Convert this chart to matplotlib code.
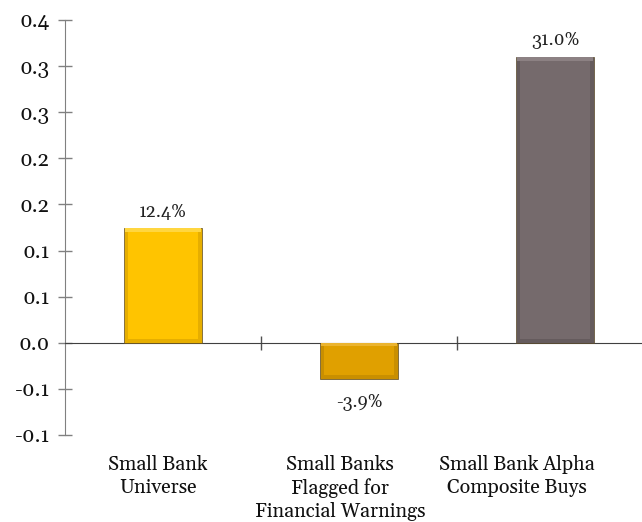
import matplotlib
matplotlib.use("Agg")
import matplotlib.pyplot as plt
import numpy as np

# ---- data ----
categories = ["Small Bank\nUniverse", "Small Banks\nFlagged for\nFinancial Warnings",
              "Small Bank Alpha\nComposite Buys"]
values = [0.124, -0.039, 0.310]
value_labels = ["12.4%", "-3.9%", "31.0%"]
ytick_values = [0.35, 0.30, 0.25, 0.20, 0.15, 0.10, 0.05, 0.00, -0.05, -0.10]
ytick_labels = ["0.4", "0.3", "0.3", "0.2", "0.2", "0.1", "0.1", "0.0", "-0.1", "-0.1"]

face_colors = ["#FFC400", "#E0A000", "#756A6C"]
side_colors = ["#E6AE00", "#C98F00", "#655B5D"]
top_colors = ["#FFD640", "#EBB430", "#8C8183"]

FONT = ["Gelasio", "Liberation Serif", "DejaVu Serif"]
plt.rcParams["font.family"] = FONT

fig = plt.figure(figsize=(6.42, 5.22), dpi=100)
ax = fig.add_axes([65 / 642, 87 / 522, 588 / 642, 415 / 522])

x = np.arange(len(values))
w = 0.395
dx = 0.018
dy = 0.004

ax.bar(x, values, width=w, color=side_colors, edgecolor="#5a4a28", linewidth=0.5, zorder=3)
for i, v in enumerate(values):
    hi = max(v, 0)
    ax.bar(x[i], -dy, bottom=hi, width=w - 0.008, color=top_colors[i], linewidth=0, zorder=4)
    lo_face = min(v, 0) + dy
    hi_face = max(v, 0) - dy
    ax.bar(x[i], hi_face - lo_face, bottom=lo_face, width=w - 2 * dx,
           color=face_colors[i], linewidth=0, zorder=5)

ax.set_xlim(-0.5, 2.5)
ax.set_ylim(-0.10, 0.35)

ax.set_yticks(ytick_values)
ax.set_yticklabels(ytick_labels, fontsize=15, color="#111111")
ax.tick_params(axis="y", direction="inout", length=10, width=1, color="#808080", pad=6)

ax.set_xticks([0.5, 1.5])
ax.set_xticklabels([])
ax.tick_params(axis="x", direction="inout", length=10, width=1, color="#505050")

for s in ["top", "right"]:
    ax.spines[s].set_visible(False)
ax.spines["left"].set_color("#808080")
ax.spines["bottom"].set_position(("data", 0))
ax.spines["bottom"].set_color("#404040")

for i, v in enumerate(values):
    off = 8.5 if v >= 0 else -20
    ax.annotate(value_labels[i], xy=(x[i], v), xytext=(0, off), textcoords="offset points",
                ha="center", va="baseline", fontsize=13, color="#222222")

cat_shift = [-3.6, -13.7, -27.4]
for i, c in enumerate(categories):
    ax.annotate(c, xy=(x[i], -0.047), xycoords=ax.get_xaxis_transform(),
                xytext=(cat_shift[i], 0), textcoords="offset points",
                ha="center", va="top", fontsize=14.2, color="#111111",
                linespacing=1.28)

fig.savefig("out.png", dpi=100)
